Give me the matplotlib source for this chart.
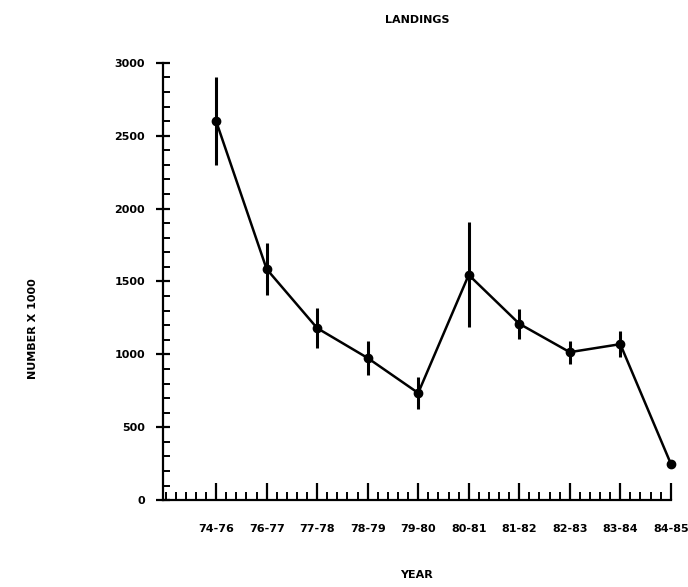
import matplotlib
matplotlib.use("Agg")
import matplotlib.pyplot as plt
from matplotlib.ticker import MultipleLocator

# --- data ---
seasons = ["74-76", "76-77", "77-78", "78-79", "79-80",
           "80-81", "81-82", "82-83", "83-84", "84-85"]
landings = [2600, 1585, 1180, 975, 735, 1545, 1210, 1015, 1070, 250]
errors = [300, 180, 138, 120, 107, 360, 103, 80, 90, 0]

x = list(range(len(seasons)))

fig = plt.figure(figsize=(6.88, 5.87), dpi=100)
ax = fig.add_axes([0.237, 0.148, 0.738, 0.745])

ax.errorbar(x, landings, yerr=errors, color="black", lw=1.8,
            marker="o", ms=6, elinewidth=2.2, capsize=0, clip_on=False)

ax.set_xlim(-1.05, len(seasons) - 1)
ax.set_ylim(0, 3000)

for side in ["top", "right"]:
    ax.spines[side].set_visible(False)
ax.spines["left"].set_linewidth(1.6)
ax.spines["bottom"].set_linewidth(1.6)

ax.set_xticks(x)
ax.set_xticklabels(seasons, fontsize=8, fontweight="bold")
ax.xaxis.set_minor_locator(MultipleLocator(0.2))
ax.yaxis.set_major_locator(MultipleLocator(500))
ax.yaxis.set_minor_locator(MultipleLocator(100))
ax.tick_params(axis="x", which="major", direction="in", length=12, width=1.6, pad=17)
ax.tick_params(axis="x", which="minor", direction="in", length=6, width=1.4)
ax.tick_params(axis="y", which="major", direction="inout", length=10, width=1.6,
               labelsize=8, pad=8)
ax.tick_params(axis="y", which="minor", direction="in", length=5, width=1.4)
for lbl in ax.get_yticklabels():
    lbl.set_fontweight("bold")

ax.set_title("LANDINGS", fontsize=8, fontweight="bold", pad=29)
ax.set_xlabel("YEAR", fontsize=8, fontweight="bold", labelpad=26)
fig.text(0.048, 0.44, "NUMBER X 1000", rotation=90, fontsize=8,
         fontweight="bold", ha="center", va="center")

fig.savefig("out.png", dpi=100)
